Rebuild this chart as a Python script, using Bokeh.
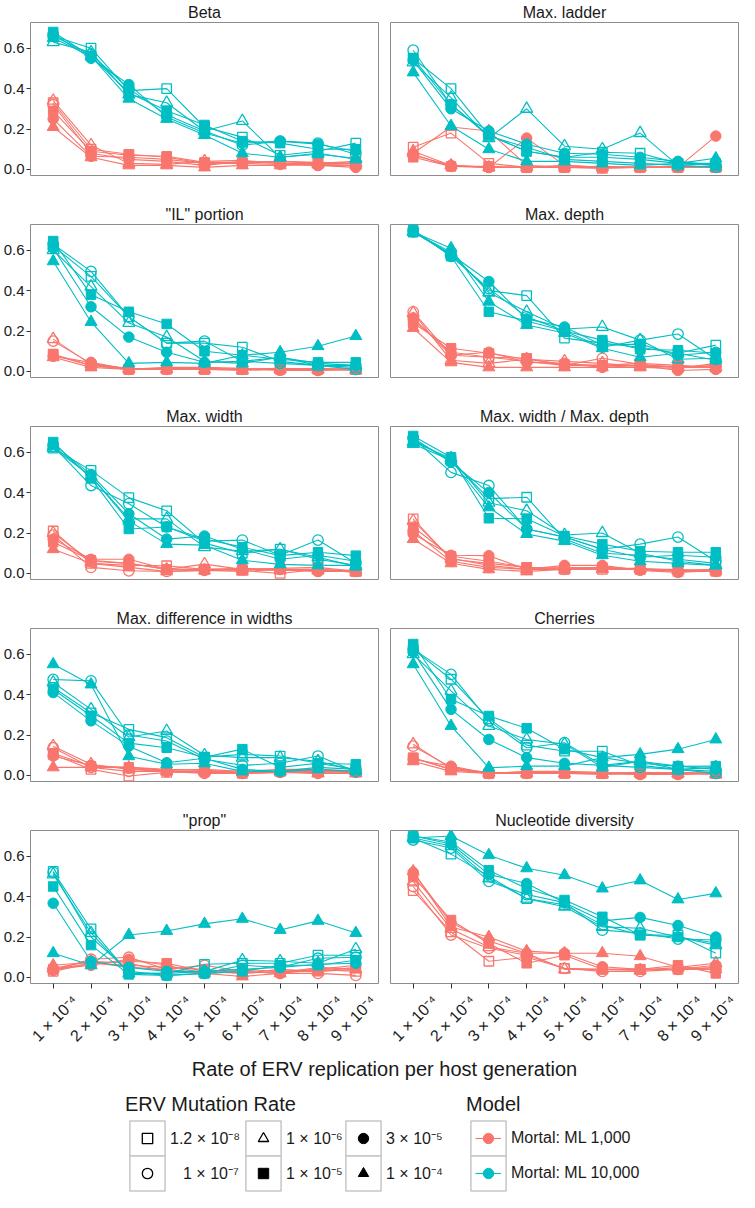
from math import pi
from bokeh.plotting import figure
from bokeh.layouts import column, row
from bokeh.models import Range1d, FixedTicker, PrintfTickFormatter, Legend, LegendItem, LinearAxis
from bokeh.embed import file_html
from bokeh.resources import INLINE
from bokeh.core.properties import value

# ---------------- data ----------------
x_rates = [1, 2, 3, 4, 5, 6, 7, 8, 9]
x_tick_labels = ["1 × 10⁻⁴", "2 × 10⁻⁴", "3 × 10⁻⁴", "4 × 10⁻⁴", "5 × 10⁻⁴",
                 "6 × 10⁻⁴", "7 × 10⁻⁴", "8 × 10⁻⁴", "9 × 10⁻⁴"]
y_ticks = [0.0, 0.2, 0.4, 0.6]
mutation_rates = ["1.2 × 10⁻⁸", "1 × 10⁻⁷", "1 × 10⁻⁶", "1 × 10⁻⁵", "3 × 10⁻⁵", "1 × 10⁻⁴"]
models = ["Mortal: ML 1,000", "Mortal: ML 10,000"]
panel_titles = ["Beta", "Max. ladder", "\"IL\" portion", "Max. depth", "Max. width",
                "Max. width / Max. depth", "Max. difference in widths", "Cherries",
                "\"prop\"", "Nucleotide diversity"]

# rows ordered as mutation_rates
beta_ml1k = [
    [0.33, 0.10, 0.075, 0.06, 0.03, 0.03, 0.04, 0.03, 0.04],
    [0.32, 0.08, 0.05, 0.04, 0.02, 0.04, 0.03, 0.02, 0.02],
    [0.34, 0.12, 0.03, 0.025, 0.04, 0.045, 0.03, 0.03, 0.03],
    [0.29, 0.09, 0.07, 0.065, 0.035, 0.035, 0.04, 0.035, 0.03],
    [0.25, 0.065, 0.06, 0.05, 0.03, 0.03, 0.025, 0.02, 0.01],
    [0.21, 0.06, 0.02, 0.02, 0.01, 0.02, 0.02, 0.025, 0.02],
]
beta_ml10k = [
    [0.66, 0.60, 0.39, 0.40, 0.21, 0.16, 0.07, 0.09, 0.13],
    [0.66, 0.57, 0.40, 0.27, 0.19, 0.12, 0.14, 0.13, 0.075],
    [0.63, 0.58, 0.37, 0.33, 0.19, 0.24, 0.06, 0.08, 0.05],
    [0.68, 0.56, 0.38, 0.29, 0.22, 0.14, 0.13, 0.10, 0.10],
    [0.67, 0.55, 0.42, 0.26, 0.18, 0.13, 0.14, 0.125, 0.09],
    [0.65, 0.56, 0.35, 0.25, 0.17, 0.08, 0.06, 0.075, 0.055],
]
ladder_ml1k = [
    [0.11, 0.18, 0.03, 0.01, 0.01, 0.005, 0.01, 0.01, 0.01],
    [0.075, 0.015, 0.01, 0.01, 0.01, 0.01, 0.01, 0.01, 0.015],
    [0.09, 0.02, 0.01, 0.01, 0.02, 0.01, 0.01, 0.015, 0.01],
    [0.06, 0.015, 0.015, 0.01, 0.01, 0.01, 0.01, 0.01, 0.01],
    [0.07, 0.02, 0.01, 0.155, 0.02, 0.01, 0.01, 0.01, 0.165],
    [0.08, 0.21, 0.19, 0.02, 0.01, 0.015, 0.01, 0.01, 0.01],
]
ladder_ml10k = [
    [0.55, 0.40, 0.17, 0.09, 0.06, 0.085, 0.08, 0.03, 0.02],
    [0.59, 0.32, 0.165, 0.11, 0.05, 0.04, 0.03, 0.02, 0.01],
    [0.53, 0.355, 0.155, 0.30, 0.115, 0.10, 0.18, 0.02, 0.03],
    [0.55, 0.32, 0.17, 0.09, 0.06, 0.06, 0.05, 0.03, 0.03],
    [0.54, 0.30, 0.19, 0.125, 0.08, 0.075, 0.06, 0.04, 0.02],
    [0.48, 0.215, 0.10, 0.04, 0.04, 0.03, 0.02, 0.03, 0.055],
]
il_ml1k = [
    [0.085, 0.03, 0.01, 0.015, 0.01, 0.01, 0.015, 0.01, 0.01],
    [0.15, 0.04, 0.01, 0.01, 0.015, 0.01, 0.01, 0.005, 0.01],
    [0.16, 0.035, 0.015, 0.01, 0.01, 0.005, 0.01, 0.01, 0.005],
    [0.08, 0.03, 0.01, 0.01, 0.01, 0.01, 0.01, 0.015, 0.01],
    [0.075, 0.045, 0.01, 0.02, 0.02, 0.015, 0.005, 0.005, 0.015],
    [0.07, 0.02, 0.01, 0.015, 0.01, 0.01, 0.015, 0.01, 0.01],
]
il_ml10k = [
    [0.62, 0.47, 0.27, 0.14, 0.14, 0.12, 0.05, 0.03, 0.02],
    [0.63, 0.495, 0.27, 0.14, 0.15, 0.05, 0.04, 0.03, 0.01],
    [0.60, 0.42, 0.24, 0.17, 0.05, 0.04, 0.07, 0.03, 0.03],
    [0.645, 0.38, 0.295, 0.235, 0.10, 0.08, 0.06, 0.045, 0.045],
    [0.61, 0.32, 0.17, 0.095, 0.045, 0.05, 0.07, 0.04, 0.03],
    [0.545, 0.245, 0.04, 0.045, 0.04, 0.08, 0.095, 0.125, 0.175],
]
depth_ml1k = [
    [0.255, 0.095, 0.07, 0.065, 0.03, 0.03, 0.03, 0.02, 0.02],
    [0.295, 0.08, 0.07, 0.05, 0.03, 0.065, 0.035, 0.02, 0.03],
    [0.29, 0.055, 0.04, 0.06, 0.05, 0.04, 0.025, 0.025, 0.02],
    [0.24, 0.115, 0.09, 0.06, 0.035, 0.03, 0.04, 0.03, 0.02],
    [0.265, 0.08, 0.095, 0.045, 0.04, 0.02, 0.03, 0.005, 0.01],
    [0.215, 0.045, 0.02, 0.02, 0.02, 0.02, 0.02, 0.015, 0.04],
]
depth_ml10k = [
    [0.69, 0.58, 0.40, 0.375, 0.165, 0.14, 0.12, 0.09, 0.13],
    [0.70, 0.57, 0.41, 0.27, 0.20, 0.12, 0.155, 0.185, 0.06],
    [0.69, 0.59, 0.39, 0.295, 0.21, 0.22, 0.155, 0.06, 0.065],
    [0.70, 0.57, 0.295, 0.25, 0.20, 0.155, 0.11, 0.105, 0.09],
    [0.69, 0.58, 0.445, 0.26, 0.22, 0.13, 0.135, 0.08, 0.095],
    [0.69, 0.61, 0.345, 0.23, 0.19, 0.115, 0.07, 0.09, 0.055],
]
width_ml1k = [
    [0.21, 0.05, 0.04, 0.038, 0.02, 0.015, 0.0, 0.02, 0.01],
    [0.19, 0.03, 0.013, 0.01, 0.015, 0.02, 0.02, 0.01, 0.01],
    [0.20, 0.06, 0.05, 0.02, 0.046, 0.02, 0.015, 0.015, 0.015],
    [0.155, 0.065, 0.05, 0.02, 0.02, 0.02, 0.025, 0.03, 0.01],
    [0.17, 0.07, 0.07, 0.02, 0.02, 0.025, 0.02, 0.01, 0.015],
    [0.12, 0.05, 0.03, 0.01, 0.015, 0.01, 0.02, 0.02, 0.005],
]
width_ml10k = [
    [0.62, 0.51, 0.375, 0.31, 0.15, 0.10, 0.12, 0.07, 0.04],
    [0.63, 0.435, 0.345, 0.23, 0.16, 0.165, 0.09, 0.165, 0.05],
    [0.62, 0.48, 0.27, 0.27, 0.13, 0.11, 0.12, 0.08, 0.035],
    [0.65, 0.47, 0.22, 0.23, 0.17, 0.13, 0.088, 0.105, 0.088],
    [0.64, 0.49, 0.295, 0.17, 0.185, 0.12, 0.07, 0.09, 0.06],
    [0.63, 0.48, 0.26, 0.145, 0.14, 0.065, 0.045, 0.04, 0.04],
]
ratio_ml1k = [
    [0.27, 0.07, 0.05, 0.03, 0.02, 0.02, 0.02, 0.01, 0.02],
    [0.21, 0.06, 0.03, 0.02, 0.02, 0.03, 0.02, 0.01, 0.01],
    [0.26, 0.075, 0.04, 0.02, 0.03, 0.025, 0.025, 0.015, 0.02],
    [0.23, 0.085, 0.06, 0.03, 0.025, 0.03, 0.02, 0.02, 0.01],
    [0.195, 0.09, 0.088, 0.02, 0.04, 0.04, 0.015, 0.005, 0.015],
    [0.17, 0.05, 0.02, 0.01, 0.02, 0.02, 0.02, 0.015, 0.01],
]
ratio_ml10k = [
    [0.66, 0.56, 0.37, 0.377, 0.17, 0.10, 0.09, 0.07, 0.05],
    [0.67, 0.50, 0.435, 0.22, 0.18, 0.12, 0.145, 0.18, 0.06],
    [0.65, 0.57, 0.35, 0.31, 0.19, 0.20, 0.10, 0.06, 0.04],
    [0.68, 0.575, 0.273, 0.27, 0.185, 0.145, 0.11, 0.105, 0.105],
    [0.67, 0.55, 0.40, 0.22, 0.18, 0.12, 0.08, 0.09, 0.08],
    [0.64, 0.56, 0.327, 0.195, 0.16, 0.09, 0.06, 0.05, 0.04],
]
diffw_ml1k = [
    [0.104, 0.03, -0.003, 0.015, 0.02, 0.01, 0.02, 0.02, 0.02],
    [0.137, 0.04, 0.02, 0.02, 0.01, 0.01, 0.015, 0.01, 0.015],
    [0.145, 0.055, 0.03, 0.02, 0.02, 0.015, 0.02, 0.01, 0.01],
    [0.11, 0.045, 0.04, 0.03, 0.025, 0.015, 0.02, 0.025, 0.02],
    [0.096, 0.05, 0.035, 0.02, 0.015, 0.01, 0.015, 0.015, 0.02],
    [0.04, 0.04, 0.04, 0.025, 0.03, 0.02, 0.03, 0.03, 0.02],
]
diffw_ml10k = [
    [0.435, 0.31, 0.228, 0.187, 0.09, 0.104, 0.096, 0.06, 0.03],
    [0.475, 0.468, 0.20, 0.17, 0.08, 0.05, 0.06, 0.096, 0.02],
    [0.46, 0.327, 0.19, 0.22, 0.10, 0.088, 0.088, 0.07, 0.025],
    [0.425, 0.295, 0.16, 0.137, 0.09, 0.13, 0.04, 0.06, 0.055],
    [0.41, 0.27, 0.145, 0.063, 0.085, 0.03, 0.02, 0.04, 0.03],
    [0.55, 0.45, 0.095, 0.055, 0.06, 0.02, 0.02, 0.03, 0.02],
]
cherries_ml1k = [
    [0.085, 0.03, 0.01, 0.015, 0.01, 0.01, 0.015, 0.01, 0.01],
    [0.145, 0.04, 0.01, 0.01, 0.015, 0.01, 0.005, 0.005, 0.01],
    [0.154, 0.035, 0.015, 0.01, 0.01, 0.005, 0.01, 0.01, 0.005],
    [0.088, 0.03, 0.01, 0.01, 0.01, 0.01, 0.01, 0.015, 0.01],
    [0.08, 0.046, 0.01, 0.02, 0.02, 0.015, 0.005, 0.005, 0.015],
    [0.07, 0.02, 0.01, 0.015, 0.01, 0.01, 0.015, 0.01, 0.01],
]
cherries_ml10k = [
    [0.625, 0.476, 0.28, 0.15, 0.12, 0.12, 0.05, 0.03, 0.02],
    [0.625, 0.50, 0.27, 0.137, 0.162, 0.05, 0.04, 0.03, 0.01],
    [0.60, 0.418, 0.245, 0.178, 0.155, 0.04, 0.07, 0.03, 0.04],
    [0.65, 0.377, 0.294, 0.233, 0.13, 0.088, 0.06, 0.045, 0.046],
    [0.61, 0.327, 0.178, 0.088, 0.06, 0.05, 0.07, 0.046, 0.03],
    [0.55, 0.245, 0.038, 0.046, 0.046, 0.088, 0.104, 0.13, 0.178],
]
prop_ml1k = [
    [0.03, 0.07, 0.06, 0.05, 0.04, 0.02, 0.03, 0.04, 0.03],
    [0.035, 0.09, 0.10, 0.04, 0.06, 0.03, 0.02, 0.02, 0.01],
    [0.045, 0.08, 0.07, 0.03, 0.03, 0.02, 0.04, 0.03, 0.04],
    [0.04, 0.07, 0.08, 0.07, 0.03, 0.04, 0.03, 0.03, 0.05],
    [0.04, 0.06, 0.09, 0.06, 0.02, 0.03, 0.02, 0.04, 0.06],
    [0.06, 0.075, 0.05, 0.04, 0.02, 0.005, 0.02, 0.05, 0.04],
]
prop_ml10k = [
    [0.525, 0.24, 0.02, 0.02, 0.065, 0.07, 0.07, 0.11, 0.11],
    [0.52, 0.20, 0.03, 0.01, 0.02, 0.06, 0.05, 0.095, 0.10],
    [0.51, 0.22, 0.02, 0.02, 0.03, 0.085, 0.08, 0.07, 0.14],
    [0.45, 0.16, 0.015, 0.01, 0.02, 0.03, 0.06, 0.06, 0.085],
    [0.367, 0.08, 0.05, 0.03, 0.03, 0.04, 0.05, 0.065, 0.07],
    [0.12, 0.06, 0.21, 0.23, 0.265, 0.29, 0.235, 0.28, 0.22],
]
nucdiv_ml1k = [
    [0.43, 0.225, 0.08, 0.10, 0.045, 0.04, 0.04, 0.04, 0.05],
    [0.45, 0.21, 0.144, 0.11, 0.045, 0.03, 0.03, 0.04, 0.04],
    [0.475, 0.24, 0.15, 0.12, 0.04, 0.04, 0.035, 0.05, 0.07],
    [0.50, 0.284, 0.168, 0.07, 0.11, 0.04, 0.04, 0.06, 0.02],
    [0.52, 0.27, 0.18, 0.12, 0.12, 0.053, 0.04, 0.04, 0.06],
    [0.525, 0.25, 0.20, 0.13, 0.12, 0.12, 0.105, 0.05, 0.04],
]
nucdiv_ml10k = [
    [0.69, 0.61, 0.50, 0.39, 0.36, 0.26, 0.21, 0.21, 0.12],
    [0.68, 0.64, 0.475, 0.41, 0.37, 0.234, 0.22, 0.19, 0.185],
    [0.69, 0.65, 0.49, 0.39, 0.35, 0.25, 0.243, 0.20, 0.16],
    [0.70, 0.67, 0.53, 0.44, 0.383, 0.30, 0.21, 0.20, 0.17],
    [0.70, 0.66, 0.51, 0.465, 0.37, 0.28, 0.297, 0.257, 0.20],
    [0.69, 0.70, 0.605, 0.54, 0.506, 0.44, 0.48, 0.386, 0.416],
]

panel_data = [
    (beta_ml1k, beta_ml10k), (ladder_ml1k, ladder_ml10k),
    (il_ml1k, il_ml10k), (depth_ml1k, depth_ml10k),
    (width_ml1k, width_ml10k), (ratio_ml1k, ratio_ml10k),
    (diffw_ml1k, diffw_ml10k), (cherries_ml1k, cherries_ml10k),
    (prop_ml1k, prop_ml10k), (nucdiv_ml1k, nucdiv_ml10k),
]

# ---------------- style ----------------
FONT = "Liberation Sans"
RED = "#F8766D"
TEAL = "#00BFC4"
TXT = "#1a1a1a"
model_colors = [RED, TEAL]
# (marker, filled, size) per mutation rate
marker_style = [("square", False, 9.5), ("circle", False, 10.5), ("triangle", False, 12),
                ("square", True, 9.5), ("circle", True, 10.5), ("triangle", True, 12)]

X_RANGE = Range1d(0.4, 9.6)
Y_RANGE = Range1d(-0.03, 0.727)
LABEL_SHIFT = 0.58          # centre rotated tick labels under their ticks
LAB_RANGE = Range1d(0.4 - LABEL_SHIFT, 9.6 - LABEL_SHIFT)


def make_panel(idx, title, red_rows, teal_rows):
    r, c = divmod(idx, 2)
    is_left = c == 0
    is_bottom = r == 4
    p = figure(frame_width=348, frame_height=153, x_range=X_RANGE, y_range=Y_RANGE,
               output_backend="svg", toolbar_location=None,
               x_axis_location="below" if is_bottom else None,
               y_axis_location="left" if is_left else None,
               min_border_left=30 if is_left else 11,
               min_border_right=1,
               min_border_top=22,
               min_border_bottom=72 if is_bottom else 27,
               title=title)
    p.title.align = "center"
    p.title.text_font = FONT
    p.title.text_font_size = "16px"
    p.title.text_font_style = "normal"
    p.title.text_color = TXT
    p.title.standoff = 3
    p.xgrid.visible = False
    p.ygrid.visible = False
    p.outline_line_color = "#8c8c8c"
    p.outline_line_width = 1
    p.background_fill_color = "white"
    p.border_fill_color = "white"

    for color, rows in zip(model_colors, (red_rows, teal_rows)):
        for vals in rows:
            p.line(x_rates, vals, line_color=color, line_width=1.1)
    for color, rows in zip(model_colors, (red_rows, teal_rows)):
        for vals, (mk, filled, size) in zip(rows, marker_style):
            if filled:
                p.scatter(x_rates, vals, marker=mk, size=size, fill_color=color,
                          line_color=color, line_width=1)
            else:
                p.scatter(x_rates, vals, marker=mk, size=size, fill_color=None,
                          line_color=color, line_width=1.3)

    if is_left:
        ax = p.yaxis[0]
        ax.ticker = FixedTicker(ticks=y_ticks)
        ax.formatter = PrintfTickFormatter(format="%.1f")
        ax.axis_line_color = None
        ax.major_tick_line_color = "#333333"
        ax.major_tick_out = 4
        ax.major_tick_in = 0
        ax.minor_tick_line_color = None
        ax.major_label_text_font = FONT
        ax.major_label_text_font_size = "15px"
        ax.major_label_text_color = TXT
        ax.major_label_standoff = 2
    if is_bottom:
        # tick marks on the main axis
        ax = p.xaxis[0]
        ax.ticker = FixedTicker(ticks=x_rates)
        ax.major_label_overrides = {x: "" for x in x_rates}
        ax.major_label_text_font_size = "0px"
        ax.major_label_standoff = 0
        ax.axis_line_color = None
        ax.major_tick_line_color = "#333333"
        ax.major_tick_out = 5
        ax.major_tick_in = 0
        ax.minor_tick_line_color = None
        # rotated labels on a second axis, offset so they sit centred under the ticks
        p.extra_x_ranges = {"lab": LAB_RANGE}
        lab = LinearAxis(x_range_name="lab", ticker=FixedTicker(ticks=x_rates))
        lab.major_label_overrides = {x: t for x, t in zip(x_rates, x_tick_labels)}
        lab.major_label_orientation = pi / 4
        lab.axis_line_color = None
        lab.major_tick_line_color = None
        lab.minor_tick_line_color = None
        lab.major_tick_out = 0
        lab.major_tick_in = 0
        lab.major_label_text_font = FONT
        lab.major_label_text_font_size = "16px"
        lab.major_label_text_color = TXT
        lab.major_label_standoff = 10
        p.add_layout(lab, "below")
    return p


panels = [make_panel(i, t, d[0], d[1]) for i, (t, d) in enumerate(zip(panel_titles, panel_data))]

# ---------------- axis title + legends ----------------
leg_fig = figure(frame_width=708, frame_height=113, x_range=Range1d(0, 1), y_range=Range1d(0, 1),
                 output_backend="svg", toolbar_location=None,
                 x_axis_location=None, y_axis_location=None,
                 min_border_left=30, min_border_right=1, min_border_top=24, min_border_bottom=0,
                 title="Rate of ERV replication per host generation")
leg_fig.title.align = "center"
leg_fig.title.text_font = FONT
leg_fig.title.text_font_size = "20px"
leg_fig.title.text_font_style = "normal"
leg_fig.title.text_color = TXT
leg_fig.title.standoff = 0
leg_fig.xgrid.visible = False
leg_fig.ygrid.visible = False
leg_fig.outline_line_color = None
leg_fig.border_fill_color = "white"

# hidden renderers that only supply the legend key glyphs
ref_y = beta_ml1k[0]
box_r = leg_fig.quad(left=x_rates, right=x_rates, top=ref_y, bottom=ref_y, fill_color="white",
                     line_color="#c6c6c6", line_width=1.5, visible=False)
erv_key_r = []
for mk, filled, size in marker_style:
    erv_key_r.append(leg_fig.scatter(x_rates, ref_y, marker=mk, size=size,
                                     fill_color="black" if filled else None,
                                     line_color="black", line_width=1 if filled else 1.3,
                                     visible=False))
model_line_r = [leg_fig.line(x_rates, ref_y, line_color=c, line_width=1.1, visible=False)
                for c in model_colors]
model_pt_r = [leg_fig.scatter(x_rates, ref_y, marker="circle", size=10, fill_color=c,
                              line_color=c, visible=False) for c in model_colors]


def style_legend(leg, glyph, standoff=1):
    leg.glyph_width = glyph
    leg.glyph_height = glyph
    leg.spacing = 0
    leg.padding = 0
    leg.margin = 0
    leg.label_standoff = standoff
    leg.background_fill_alpha = 0
    leg.border_line_alpha = 0
    leg.inactive_fill_alpha = 0
    leg.label_text_font = FONT
    leg.label_text_font_size = "16px"
    leg.label_text_color = TXT
    leg.title_text_font = FONT
    leg.title_text_font_size = "20px"
    leg.title_text_font_style = "normal"
    leg.title_text_color = TXT
    leg.title_standoff = 0


GA, GB = 44, 26            # key area for the boxes / for the symbols
PITCH = 35                 # row pitch of legend keys
SHIFT = (GA - GB) / 2
erv_cols = [(0, 1), (2, 3), (4, 5)]
erv_x = [95, 211, 311]
erv_standoff = [1, 14, 1, 1, 1, 1]   # right-aligns the shorter label of the first column
model_x = 436
base_y = -3.4

all_a, all_b = [], []


def add_key(x0, rowi, label, renderers_b, title=None, standoff=1):
    y0 = base_y + (1 - rowi) * PITCH
    la = Legend(items=[LegendItem(label=value(label), renderers=[box_r])],
                location=(x0, y0), title=title)
    style_legend(la, GA, standoff)
    lb = Legend(items=[LegendItem(label=value(" "), renderers=renderers_b)],
                location=(x0 + SHIFT, y0 + SHIFT))
    style_legend(lb, GB)
    all_a.append(la)
    all_b.append(lb)


for k, idxs in enumerate(erv_cols):
    for j, i in enumerate(idxs):
        add_key(erv_x[k], j, mutation_rates[i], [erv_key_r[i]],
                title="ERV Mutation Rate" if (k == 0 and j == 0) else None,
                standoff=erv_standoff[i])
for j, m in enumerate(models):
    add_key(model_x, j, m, [model_line_r[j], model_pt_r[j]], title="Model" if j == 0 else None)

for leg in all_a + all_b:
    leg_fig.add_layout(leg)

rows = [row(panels[2 * i], panels[2 * i + 1]) for i in range(5)]
layout = column(*rows, leg_fig)

open("out.html", "w").write(file_html(layout, INLINE))
